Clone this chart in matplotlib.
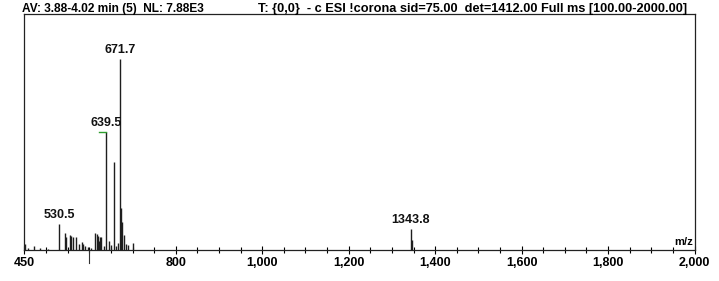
import matplotlib.pyplot as plt
from matplotlib.ticker import MultipleLocator, FixedLocator, FuncFormatter

plt.rcParams['font.family'] = ['Liberation Sans', 'DejaVu Sans']

# peaks: m/z and relative abundance (%)
mz = [451, 458, 471, 486, 505, 530.5, 543, 547, 555, 558, 562, 570, 576, 582, 586,
      590, 596, 605, 614, 617, 620, 622, 624, 628, 633, 639.5, 645, 650, 657, 662,
      666, 671.7, 674, 676, 680, 685, 690, 702, 1343.8, 1345.5]
intensity = [3.0, 1.2, 2.0, 1.0, 0.8, 13.8, 8.8, 6.8, 7.8, 7.5, 7.0, 7.0, 3.0, 4.3, 3.0,
             2.0, 1.5, 1.2, 9.0, 8.5, 7.5, 5.0, 6.8, 7.0, 2.0, 62.0, 5.0, 2.5, 46.0, 2.0,
             3.5, 100.0, 22.0, 14.6, 8.0, 3.0, 2.5, 3.5, 11.0, 5.5]

labels_mz = [530.5, 639.5, 671.7, 1343.8]
labels_int = [13.8, 62.0, 100.0, 11.0]

tick_vals = [450, 800, 1000, 1200, 1400, 1600, 1800, 2000]

header_left = 'AV: 3.88-4.02 min (5)  NL: 7.88E3'
header_right = 'T: {0,0}  - c ESI !corona sid=75.00  det=1412.00 Full ms [100.00-2000.00]'

fig = plt.figure(figsize=(7.19, 2.81), dpi=100)
ax = fig.add_axes([0.034, 0.110, 0.932, 0.840])

ax.vlines(mz, 0, intensity, color='#1e1e1e', linewidth=1.0)

for x, y in zip(labels_mz, labels_int):
    ax.text(x, y + 1.5, '%.1f' % x, ha='center', va='bottom', fontsize=9,
            fontweight='bold', color='#111111')
# green label connector on 639.5
ax.plot([623, 639.5], [62.0, 62.0], color='#2e9e2e', linewidth=1.0)

ax.text(1996, 1.5, 'm/z', ha='right', va='bottom', fontsize=8, fontweight='bold')

ax.set_xlim(450, 2000)
ax.set_ylim(0, 123.6)
ax.xaxis.set_major_locator(FixedLocator(tick_vals))
ax.xaxis.set_major_formatter(FuncFormatter(lambda v, p: '{:,.0f}'.format(v)))
ax.xaxis.set_minor_locator(MultipleLocator(50))
ax.tick_params(axis='x', which='major', direction='inout', length=6, width=0.8,
               labelsize=9, pad=2)
ax.tick_params(axis='x', which='minor', direction='inout', length=4, width=0.8)
for lab in ax.get_xticklabels():
    lab.set_fontweight('bold')
# the odd long tick at 600
ax.plot([600, 600], [0, -7], color='#333333', linewidth=0.8, clip_on=False)
ax.set_yticks([])
for s in ax.spines.values():
    s.set_linewidth(0.9)
    s.set_color('#222222')

fig.text(22 / 719, 1 - 3 / 281, header_left, ha='left', va='top', fontsize=8.6,
         fontweight='bold')
fig.text(258 / 719, 1 - 3 / 281, header_right, ha='left', va='top', fontsize=9.2,
         fontweight='bold')

fig.savefig('out.png', dpi=100)
